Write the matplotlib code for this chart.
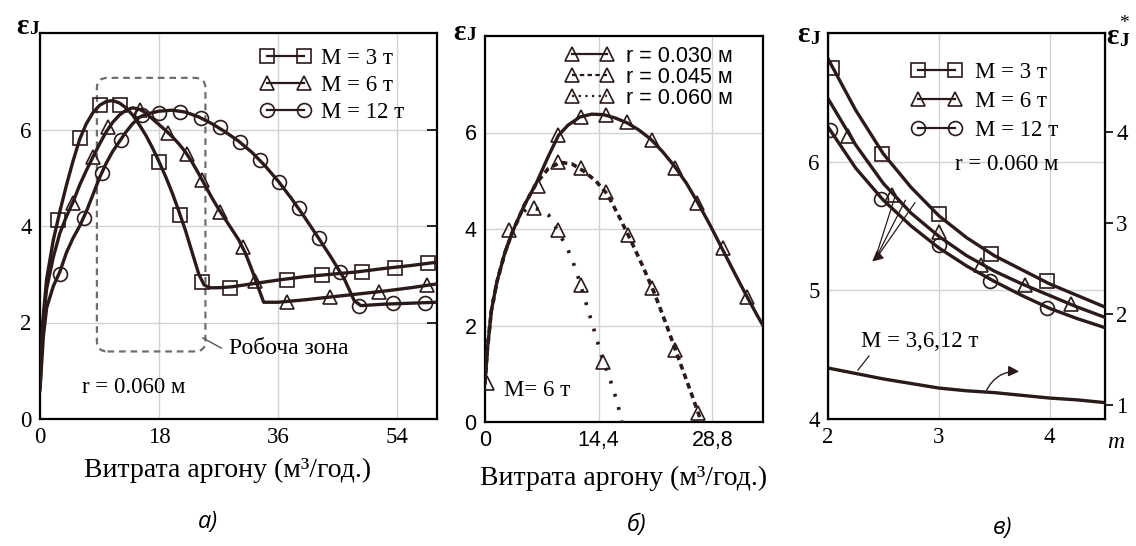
import matplotlib.pyplot as plt
from matplotlib.patches import FancyBboxPatch
from matplotlib.lines import Line2D

SERIF = 'Liberation Serif'
SANS = 'Liberation Sans'
INK = '#2b1a1a'
GRID = '#d2d2d2'

# ---- panel a): efficiency vs argon flow, r = 0.060 m ----
a_x3 = [0, 0.4, 1, 2, 3, 4, 5, 6, 7, 8, 9, 10, 11, 12, 13, 14, 15, 16, 17, 18, 19, 20,
        21, 22, 23, 24, 24.8, 25.6, 27, 29, 32, 36, 40, 44, 48, 52, 56, 60]
a_y3 = [0.7, 2.0, 2.9, 3.7, 4.3, 4.85, 5.35, 5.8, 6.12, 6.35, 6.5, 6.58, 6.6, 6.55, 6.45,
        6.3, 6.1, 5.88, 5.62, 5.33, 5.02, 4.68, 4.3, 3.9, 3.45, 3.0, 2.78, 2.72, 2.72,
        2.74, 2.8, 2.88, 2.95, 3.0, 3.05, 3.12, 3.18, 3.25]
a_mx3 = [2.7, 6.0, 9.1, 12.1, 18.0, 21.2, 24.5, 28.7, 37.3, 42.6, 48.7, 53.7, 58.7]
a_my3 = [4.12, 5.82, 6.5, 6.5, 5.33, 4.23, 2.84, 2.72, 2.88, 2.98, 3.05, 3.13, 3.23]

a_x6 = [0, 0.4, 1, 2, 3, 4, 5, 6, 7, 8, 9, 10, 11, 12, 13, 14, 15, 16, 17, 18, 19, 20,
        21, 22, 23, 24, 25, 26, 27, 28, 29, 30, 31, 32, 33, 33.8, 36, 40, 44, 48, 52, 56, 60]
a_y6 = [0.65, 1.9, 2.7, 3.35, 3.85, 4.2, 4.5, 4.85, 5.15, 5.43, 5.7, 5.95, 6.15, 6.3, 6.4,
        6.45, 6.42, 6.35, 6.22, 6.1, 5.98, 5.85, 5.7, 5.53, 5.32, 5.08, 4.83, 4.58, 4.35,
        4.14, 3.93, 3.72, 3.45, 3.1, 2.72, 2.42, 2.42, 2.47, 2.53, 2.59, 2.65, 2.72, 2.8]
a_mx6 = [5.0, 8.0, 10.3, 15.1, 19.4, 22.2, 24.5, 27.2, 30.7, 32.5, 37.3, 43.9, 51.2, 58.5]
a_my6 = [4.47, 5.43, 6.05, 6.4, 5.93, 5.5, 4.95, 4.3, 3.57, 2.85, 2.43, 2.53, 2.63, 2.78]

a_x12 = [0, 0.5, 1, 2, 3, 4, 5, 6, 7, 8, 9, 10, 11, 12, 13, 14, 15, 16, 18, 20, 22, 24,
         26, 28, 30, 32, 34, 36, 38, 40, 42, 44, 46, 47.5, 48.5, 52, 56, 60]
a_y12 = [0.6, 1.7, 2.3, 2.75, 3.05, 3.45, 3.75, 4.0, 4.3, 4.65, 5.0, 5.3, 5.55, 5.75,
         5.95, 6.12, 6.25, 6.32, 6.38, 6.4, 6.36, 6.26, 6.12, 5.95, 5.76, 5.53, 5.25,
         4.93, 4.57, 4.18, 3.77, 3.35, 2.9, 2.45, 2.35, 2.38, 2.4, 2.42]
a_mx12 = [3.0, 6.6, 9.3, 12.3, 15.4, 18.0, 21.2, 24.4, 27.2, 30.3, 33.3, 36.1, 39.1,
          42.1, 45.4, 48.2, 53.4, 58.2]
a_my12 = [3.0, 4.17, 5.1, 5.78, 6.3, 6.34, 6.37, 6.23, 6.05, 5.74, 5.37, 4.92, 4.37,
          3.75, 3.05, 2.35, 2.4, 2.4]

a_labels = ['M = 3 т', 'M = 6 т', 'M = 12 т']
a_xticks = [0, 18, 36, 54]
a_yticks = [0, 2, 4, 6]
zone_x = (8.6, 25.0)
zone_y = (1.4, 7.07)

# ---- panel b): M = 6 t, different r ----
b_x30 = [0, 0.3, 0.8, 1.5, 2.5, 3.5, 5, 6.5, 8, 9.3, 10.5, 12, 13.5, 15, 16.5, 18, 19.5,
         21, 22.5, 24, 25.5, 27, 28.5, 30, 31.5, 33, 34.5, 35.2]
b_y30 = [0.8, 1.5, 2.3, 2.9, 3.5, 3.95, 4.5, 4.95, 5.5, 5.94, 6.15, 6.32, 6.38, 6.37,
         6.3, 6.2, 6.05, 5.86, 5.6, 5.3, 4.95, 4.53, 4.08, 3.6, 3.12, 2.65, 2.2, 2.0]
b_mx30 = [0.3, 3.0, 6.7, 9.3, 12.1, 15.3, 18.0, 21.2, 24.1, 26.9, 30.1, 33.2]
b_my30 = [0.8, 3.97, 4.9, 5.94, 6.32, 6.36, 6.21, 5.84, 5.26, 4.53, 3.6, 2.59]

b_x45 = [0, 0.3, 0.8, 1.5, 2.5, 3.5, 5, 6.5, 8, 9.5, 11, 12.5, 14, 15.5, 17, 18.5, 20,
         21.5, 23, 24.5, 26, 27.4]
b_y45 = [0.8, 1.5, 2.3, 2.9, 3.5, 3.95, 4.5, 4.95, 5.25, 5.38, 5.35, 5.2, 5.0, 4.72,
         4.25, 3.75, 3.22, 2.65, 2.0, 1.32, 0.65, 0.0]
b_mx45 = [9.2, 12.1, 15.3, 18.1, 21.2, 24.1, 27.0]
b_my45 = [5.38, 5.26, 4.77, 3.87, 2.77, 1.49, 0.19]

b_x60 = [0, 0.3, 0.8, 1.5, 2.5, 3.5, 4.5, 5.5, 6.2, 7, 8, 9.2, 10.5, 11.1, 11.7, 12.1,
         13.1, 14.0, 14.9, 15.9, 16.8, 17.3]
b_y60 = [0.8, 1.5, 2.3, 2.9, 3.5, 3.95, 4.3, 4.45, 4.43, 4.4, 4.3, 3.97, 3.57, 3.34,
         3.05, 2.84, 2.3, 1.8, 1.3, 0.85, 0.38, 0.0]
b_mx60 = [6.2, 9.2, 12.1, 14.9]
b_my60 = [4.43, 3.97, 2.84, 1.24]

b_labels = ['r = 0.030 м', 'r = 0.045 м', 'r = 0.060 м']
b_xticks = [0, 14.4, 28.8]
b_xticklabels = ['0', '14,4', '28,8']
b_yticks = [0, 2, 4, 6]

# ---- panel c): vs m ----
c_x = [2.0, 2.25, 2.5, 2.75, 3.0, 3.25, 3.5, 3.75, 4.0, 4.25, 4.5]
c_y3 = [6.8, 6.4, 6.06, 5.8, 5.58, 5.41, 5.27, 5.16, 5.05, 4.96, 4.87]
c_y6 = [6.49, 6.13, 5.83, 5.6, 5.42, 5.27, 5.15, 5.05, 4.96, 4.87, 4.79]
c_y12 = [6.27, 5.95, 5.7, 5.5, 5.33, 5.19, 5.07, 4.96, 4.86, 4.78, 4.71]
c_star = [1.41, 1.35, 1.29, 1.24, 1.19, 1.16, 1.14, 1.11, 1.08, 1.06, 1.03]
c_mx3 = [2.04, 2.49, 3.0, 3.47, 3.98]
c_my3 = [6.73, 6.06, 5.59, 5.28, 5.07]
c_mx6 = [2.18, 2.58, 3.0, 3.38, 3.78, 4.19]
c_my6 = [6.2, 5.74, 5.45, 5.2, 5.04, 4.89]
c_mx12 = [2.02, 2.48, 3.0, 3.46, 3.98]
c_my12 = [6.25, 5.71, 5.35, 5.07, 4.86]
c_xticks = [2, 3, 4]
c_yticks = [4, 5, 6]
c_rticks = [1, 2, 3, 4]

W, H = 1136, 546


def frac(left, top, right, bottom):
    return [left / W, 1 - bottom / H, (right - left) / W, (bottom - top) / H]


def style_axes(ax, font=SERIF, size=16.5):
    for s in ax.spines.values():
        s.set_linewidth(1.6)
        s.set_color('black')
    ax.grid(True, color=GRID, linewidth=1.0)
    ax.set_axisbelow(True)
    ax.tick_params(length=0, pad=6, labelsize=size)
    for lab in ax.get_xticklabels() + ax.get_yticklabels():
        lab.set_fontfamily(font)


def series(ax, x, y, mx, my, marker, ls='-', lw=2.4):
    ax.plot(x, y, color=INK, lw=lw, ls=ls, zorder=3)
    ax.plot(mx, my, ls='none', marker=marker, ms=10, mfc='none', mec=INK, mew=1.2, zorder=4)


def handle(marker, ls='-', lw=1.6):
    return Line2D([], [], color=INK, lw=lw, ls=ls, marker=marker, ms=10,
                  mfc='none', mec=INK, mew=1.2)


def ylab(x, y, star=False, size=21):
    fig.text(x / W, 1 - y / H, 'ε', family=SERIF, weight='bold', fontsize=size,
             ha='center', va='center')
    fig.text((x + 12) / W, 1 - (y + 4) / H, 'J', family=SERIF, weight='bold',
             fontsize=14, ha='center', va='center')
    if star:
        fig.text((x + 12) / W, 1 - (y - 14) / H, '*', family=SERIF, fontsize=14,
                 ha='center', va='center')


fig = plt.figure(figsize=(W / 100, H / 100), dpi=100)

# ================= a) =================
axa = fig.add_axes(frac(40, 33, 437, 419))
series(axa, a_x3, a_y3, a_mx3, a_my3, 's')
series(axa, a_x6, a_y6, a_mx6, a_my6, '^')
series(axa, a_x12, a_y12, a_mx12, a_my12, 'o')
axa.set_xlim(0, 60)
axa.set_ylim(0, 8)
axa.set_xticks(a_xticks)
axa.set_yticks(a_yticks)
style_axes(axa)
axa.tick_params(axis='y', right=True, direction='in', length=7, width=1.2, left=False)
box = FancyBboxPatch((zone_x[0], zone_y[0]), zone_x[1] - zone_x[0], zone_y[1] - zone_y[0],
                     boxstyle='round,pad=0,rounding_size=1.6', mutation_aspect=0.13,
                     fill=False, ec='#6e6e6e', lw=1.6, ls=(0, (3, 2.2)), zorder=2)
axa.add_patch(box)
axa.plot([24.6, 27.4], [1.68, 1.47], color='#555555', lw=1.0)
axa.text(28.6, 1.47, 'Робоча зона', family=SERIF, fontsize=17, va='center')
axa.text(6.3, 0.66, 'r = 0.060 м', family=SERIF, fontsize=16.5, va='center')
axa.legend([handle('s'), handle('^'), handle('o')], a_labels, loc='upper left',
           bbox_to_anchor=(0.555, 0.96), frameon=False, numpoints=2,
           prop={'family': SERIF, 'size': 16.5}, handlelength=2.2, handletextpad=0.45,
           labelspacing=0.25, borderaxespad=0, borderpad=0)
ylab(22, 26)
fig.text(228 / W, 1 - 470 / H, 'Витрата аргону (м³/год.)', family=SERIF, fontsize=20,
         ha='center', va='center')
fig.text(208 / W, 1 - 522 / H, 'а)', family='Open Sans', style='italic', fontsize=17,
         ha='center', va='center')

# ================= б) =================
axb = fig.add_axes(frac(485, 36, 763, 422))
series(axb, b_x30, b_y30, b_mx30, b_my30, '^')
series(axb, b_x45, b_y45, b_mx45, b_my45, '^', ls=(0, (1.6, 1.2)), lw=2.6)
series(axb, b_x60, b_y60, b_mx60, b_my60, '^', ls=(0, (0.8, 3.0)), lw=2.6)
axb.set_xlim(0, 35.2)
axb.set_ylim(0, 8)
axb.set_xticks(b_xticks, b_xticklabels)
axb.set_yticks(b_yticks)
style_axes(axb, font=SANS, size=15.5)
axb.text(2.4, 0.66, 'M= 6 т', family=SERIF, fontsize=16.5, va='center')
axb.legend([handle('^'), handle('^', ls=(0, (2, 1.5))), handle('^', ls=(0, (1, 2)))],
           b_labels, loc='upper left', bbox_to_anchor=(0.29, 0.975), frameon=False,
           numpoints=2, prop={'family': SANS, 'size': 15.5}, handlelength=2.2,
           handletextpad=0.6, labelspacing=0.0, borderaxespad=0, borderpad=0)
ylab(459, 32)
fig.text(624 / W, 1 - 478 / H, 'Витрата аргону (м³/год.)', family=SERIF, fontsize=20,
         ha='center', va='center')
fig.text(637 / W, 1 - 525 / H, 'б)', family='Open Sans', style='italic', fontsize=17,
         ha='center', va='center')

# ================= в) =================
axc = fig.add_axes(frac(828, 33, 1105, 419))
series(axc, c_x, c_y3, c_mx3, c_my3, 's')
series(axc, c_x, c_y6, c_mx6, c_my6, '^')
series(axc, c_x, c_y12, c_mx12, c_my12, 'o')
axc.set_xlim(2, 4.5)
axc.set_ylim(4, 7)
axc.set_xticks(c_xticks)
axc.set_yticks(c_yticks)
style_axes(axc)
axc2 = axc.twinx()
axc2.plot(c_x, c_star, color=INK, lw=2.4)
axc2.set_ylim(0.85, 5.09)
axc2.set_yticks(c_rticks)
axc2.tick_params(axis='y', direction='out', length=6, width=1.2, pad=2, labelsize=16.5)
for lab in axc2.get_yticklabels():
    lab.set_fontfamily(SERIF)

axc.legend([handle('s'), handle('^'), handle('o')], a_labels, loc='upper left',
           bbox_to_anchor=(0.3, 0.925), frameon=False, numpoints=2,
           prop={'family': SERIF, 'size': 16.5}, handlelength=2.2, handletextpad=0.6,
           labelspacing=0.35, borderaxespad=0, borderpad=0)
axc.text(3.15, 5.98, 'r = 0.060 м', family=SERIF, fontsize=16.5, va='center')
# arrows pointing to the left axis
for sx, sy in [(2.62, 5.77), (2.71, 5.72), (2.8, 5.7)]:
    axc.annotate('', xy=(2.42, 5.23), xytext=(sx, sy),
                 arrowprops=dict(arrowstyle='-', color=INK, lw=0.9))
axc.annotate('', xy=(2.38, 5.21), xytext=(2.46, 5.27),
             arrowprops=dict(arrowstyle='-|>', color=INK, lw=1.0, mutation_scale=16))
# arrow pointing to the right axis
axc2.annotate('', xy=(3.75, 1.37), xytext=(3.42, 1.14),
              arrowprops=dict(arrowstyle='-|>', color=INK, lw=1.0, mutation_scale=16,
                              connectionstyle='arc3,rad=-0.35'))
axc.text(2.3, 4.6, 'M = 3,6,12 т', family=SERIF, fontsize=16.5, va='center')
axc.plot([2.37, 2.27], [4.49, 4.38], color=INK, lw=0.9)
axc.text(4.52, 3.82, 'm', family=SERIF, style='italic', fontsize=17, va='center',
         ha='left')
ylab(803, 35)
ylab(1112, 37, star=True)
fig.text(1003 / W, 1 - 528 / H, 'в)', family='Open Sans', style='italic', fontsize=17,
         ha='center', va='center')

fig.savefig('out.png', dpi=100, facecolor='white')
